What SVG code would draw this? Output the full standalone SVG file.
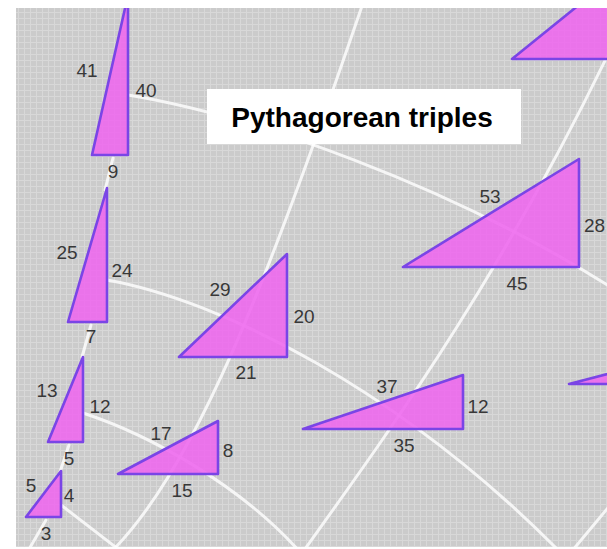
<svg xmlns="http://www.w3.org/2000/svg" width="607" height="549" viewBox="0 0 607 549">
<style>
.tri{fill:#ee66ee;fill-opacity:0.88;stroke:#7a45e6;stroke-width:2.6;stroke-linejoin:round}
.lbl{font-family:"Liberation Sans",Arial,sans-serif;font-size:19px;fill:#383838;text-anchor:middle}
.ln{fill:none;stroke:#ffffff;stroke-opacity:0.8;stroke-width:3;stroke-linecap:round}
.title{font-family:"Liberation Sans",Arial,sans-serif;font-size:28px;font-weight:bold;fill:#000000;text-anchor:middle}
</style>
<defs>
<pattern id="grid" width="6" height="6" patternUnits="userSpaceOnUse">
<rect width="6" height="6" fill="#cbcbcb"/>
<path d="M0 0.5H6M0.5 0V6" stroke="#d8d8d8" stroke-width="1"/>
</pattern>
<clipPath id="area"><rect x="16" y="8" width="591" height="539"/></clipPath>
</defs>
<rect width="607" height="549" fill="#ffffff"/>
<rect x="16" y="8" width="591" height="539" fill="url(#grid)"/>
<g clip-path="url(#area)">
<g id="connectors">
<path class="ln" d="M128,95 C250,115 450,185 612,288"/>
<path class="ln" d="M107,280 C220,300 400,390 560,552"/>
<path class="ln" d="M83,413 C150,435 240,485 300,552"/>
<path class="ln" d="M61,505 L118,549"/>
<path class="ln" d="M115,548 C195,465 265,290 362,6"/>
<path class="ln" d="M305,549 C390,430 500,280 615,40"/>
<path class="ln" d="M612,503 L572,551"/>
<path class="ln" d="M113,158 L105,190"/>
<path class="ln" d="M91,325 L82,357"/>
<path class="ln" d="M69,445 L60,472"/>
<path class="ln" d="M46,520 L28,551"/>
</g>
<g id="t-9-40-41">
<polygon class="tri" points="92,155 128,155 128,-5"/>
<text class="lbl" x="87" y="77">41</text>
<text class="lbl" x="146" y="97">40</text>
<text class="lbl" x="113" y="178">9</text>
</g>
<g id="t-7-24-25">
<polygon class="tri" points="68,322 107,322 107,188"/>
<text class="lbl" x="67" y="259">25</text>
<text class="lbl" x="122" y="277">24</text>
<text class="lbl" x="91" y="343">7</text>
</g>
<g id="t-5-12-13">
<polygon class="tri" points="48,442 83,442 83,357"/>
<text class="lbl" x="47" y="397">13</text>
<text class="lbl" x="100" y="413">12</text>
<text class="lbl" x="69" y="465">5</text>
</g>
<g id="t-3-4-5">
<polygon class="tri" points="26,517 61,517 61,471"/>
<text class="lbl" x="31" y="492">5</text>
<text class="lbl" x="69" y="502">4</text>
<text class="lbl" x="46" y="540">3</text>
</g>
<g id="t-8-15-17">
<polygon class="tri" points="118,474 218,474 218,421"/>
<text class="lbl" x="161" y="440">17</text>
<text class="lbl" x="228" y="457">8</text>
<text class="lbl" x="182" y="497">15</text>
</g>
<g id="t-20-21-29">
<polygon class="tri" points="179,357 287,357 287,254"/>
<text class="lbl" x="220" y="296">29</text>
<text class="lbl" x="304" y="323">20</text>
<text class="lbl" x="246" y="379">21</text>
</g>
<g id="t-12-35-37">
<polygon class="tri" points="303,429 463,429 463,375"/>
<text class="lbl" x="387" y="393">37</text>
<text class="lbl" x="478" y="413">12</text>
<text class="lbl" x="404" y="452">35</text>
</g>
<g id="t-28-45-53">
<polygon class="tri" points="403,267 579,267 579,159"/>
<text class="lbl" x="490" y="203">53</text>
<text class="lbl" x="584" y="232" style="text-anchor:start">28</text>
<text class="lbl" x="517" y="290">45</text>
</g>
<g id="t-top-right">
<polygon class="tri" points="512,59 700,59 700,-93"/>
</g>
<g id="t-right">
<polygon class="tri" points="569,384 700,384 700,350"/>
</g>
</g>
<g id="title">
<rect x="207" y="89" width="314" height="55" fill="#ffffff"/>
<text class="title" x="362" y="127">Pythagorean triples</text>
</g>
</svg>
